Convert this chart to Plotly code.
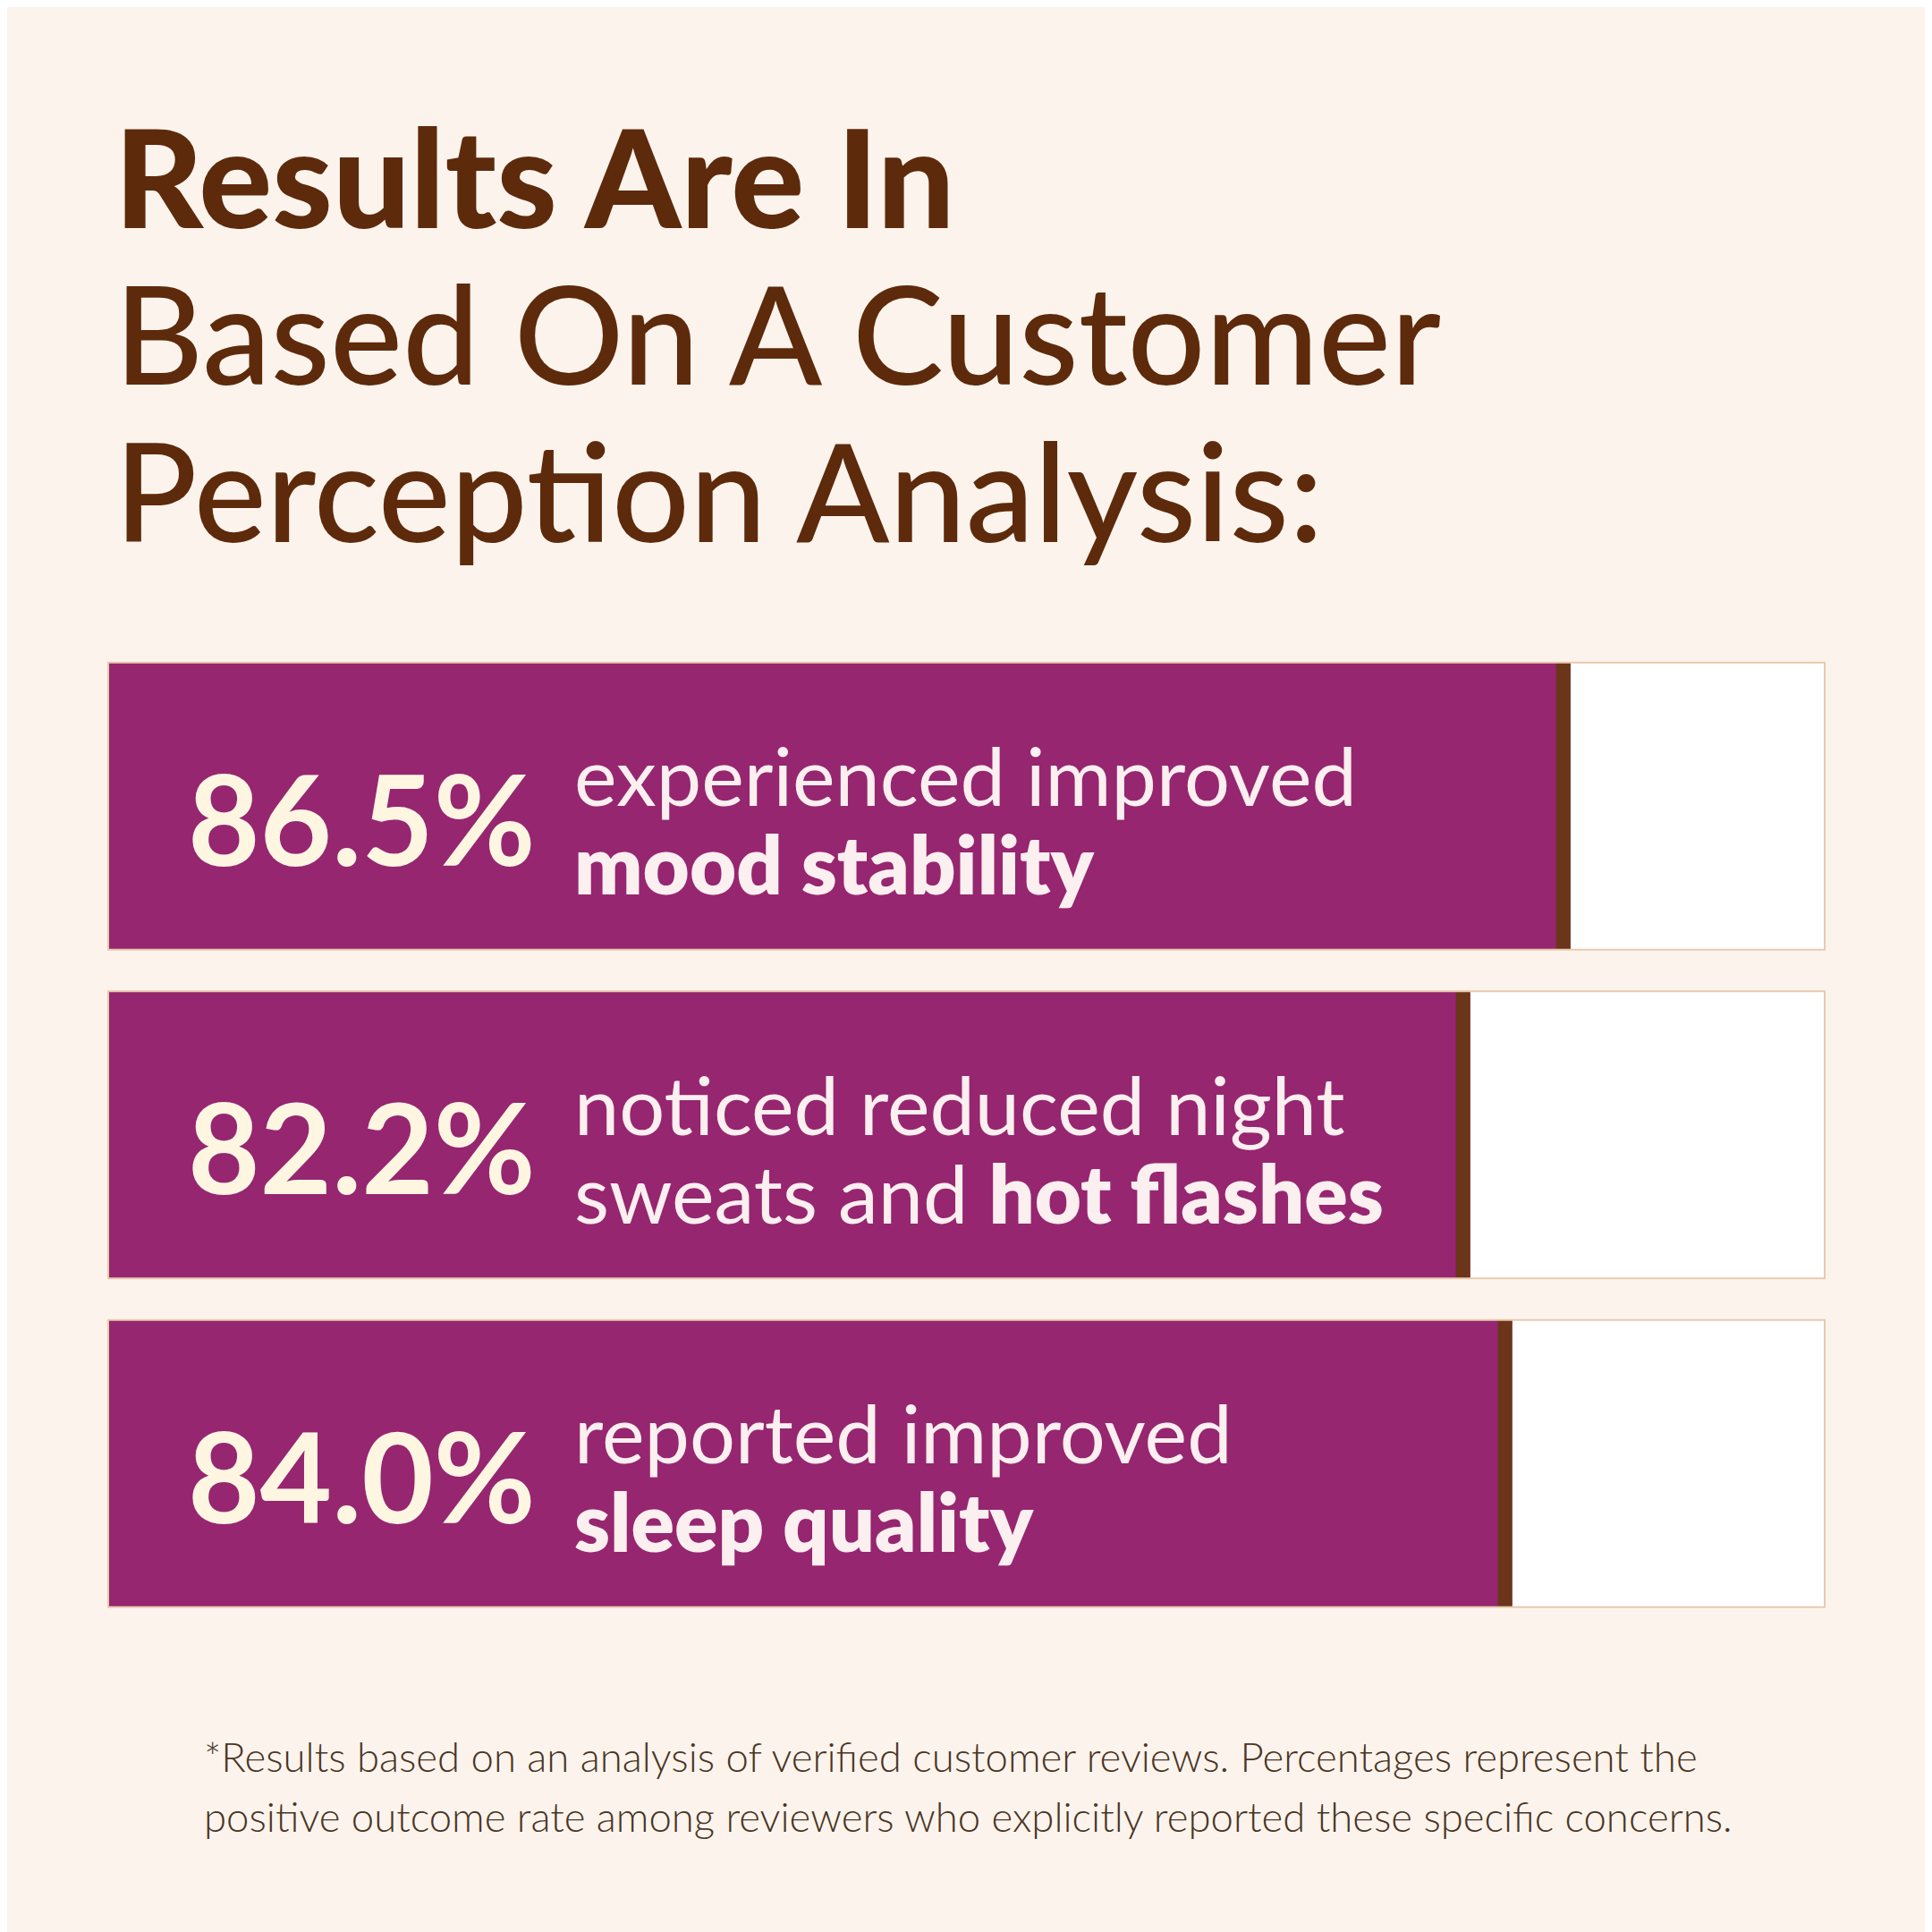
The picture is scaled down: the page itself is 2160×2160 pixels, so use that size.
import plotly.graph_objects as go

categories = ["mood stability", "hot flashes", "sleep quality"]
values = [86.5, 82.2, 84.0]
full_scale = [100, 100, 100]
line_one = ["experienced improved", "noticed reduced night", "reported improved"]
line_two = ["mood stability", "sweats and |hot flashes", "sleep quality"]

title_lines = ["Results Are In", "Based On A Customer", "Perception Analysis:"]
title_weights = [900, 500, 500]
footnote_lines = [
    "*Results based on an analysis of verified customer reviews. Percentages represent the",
    "positive outcome rate among reviewers who explicitly reported these specific concerns.",
]

# Colours
BG = "#FCF4EC"
PURPLE = "#962670"
BROWN = "#6B3519"
TITLE_BROWN = "#5E2A0C"
BORDER = "#E9C9AE"
CREAM = "#FFF6E2"
LABEL = "#FCEFEF"

W = H = 2160
OFF = 8  # page body margin in the browser
BAR_GAP = 0.1265
X_LO, X_HI = 23.8, 97.4
CAP = 16 * (X_HI - X_LO) / 1919  # 16px brown end cap, in axis units
FONT = "Lato"


def px(v):
    return (v - OFF) / W


def heavy(s):
    # text after "|" (or all of it) is set in a heavy weight
    plain, _, strong = s.rpartition("|") if "|" in s else ("", "", s)
    return plain + f'<span style="font-weight:800">{strong}</span>'


fig = go.Figure()

# white panel behind each bar (100% scale)
fig.add_trace(go.Bar(
    y=categories, x=full_scale, base=0, orientation="h",
    marker=dict(color="white", line=dict(width=0)),
    hoverinfo="skip", showlegend=False,
))

# purple value bars
fig.add_trace(go.Bar(
    y=categories, x=values, base=0, orientation="h",
    marker=dict(color=PURPLE, line=dict(width=0)),
    showlegend=False,
))

# brown end cap on each bar
fig.add_trace(go.Bar(
    y=categories, x=[CAP] * len(values), base=[v - CAP for v in values],
    orientation="h", marker=dict(color=BROWN, line=dict(width=0)),
    hoverinfo="skip", showlegend=False,
))

# thin border round each panel
for i, _ in enumerate(categories):
    fig.add_shape(
        type="rect", xref="x domain", yref="y",
        x0=0, x1=1, y0=i - (1 - BAR_GAP) / 2, y1=i + (1 - BAR_GAP) / 2,
        line=dict(color=BORDER, width=2), layer="above",
    )

# text inside the bars
for cat, v, a, b in zip(categories, values, line_one, line_two):
    fig.add_annotation(
        xref="paper", yref="y", x=px(208), y=cat, xanchor="left", yanchor="middle",
        text=f"{v:.1f}%", showarrow=False, yshift=-13,
        font=dict(family=FONT, size=139, color=CREAM, weight=700),
    )
    fig.add_annotation(
        xref="paper", yref="y", x=px(640), y=cat, xanchor="left", yanchor="middle",
        text=a, showarrow=False, yshift=35,
        font=dict(family=FONT, size=90, color=LABEL),
    )
    fig.add_annotation(
        xref="paper", yref="y", x=px(640), y=cat, xanchor="left", yanchor="middle",
        text=heavy(b), showarrow=False, yshift=-64,
        font=dict(family=FONT, size=90, color=LABEL),
    )

# title
for txt, wt, base in zip(title_lines, title_weights, [255, 430, 606]):
    fig.add_annotation(
        xref="paper", yref="paper", x=px(126), y=1 - (base - OFF - 0.387 * 153) / H,
        xanchor="left", yanchor="middle", text=txt, showarrow=False,
        font=dict(family=FONT, size=153, color=TITLE_BROWN, weight=wt),
    )

# footnote
for txt, base in zip(footnote_lines, [1981, 2048]):
    fig.add_annotation(
        xref="paper", yref="paper", x=px(226), y=1 - (base - OFF - 0.387 * 45.5) / H,
        xanchor="left", yanchor="middle", text=txt, showarrow=False,
        font=dict(family=FONT, size=45.5, color="#4A3426", weight=300),
    )

fig.update_layout(
    width=W, height=H,
    margin=dict(l=0, r=0, t=0, b=0),
    paper_bgcolor=BG, plot_bgcolor="rgba(0,0,0,0)",
    barmode="overlay", bargap=BAR_GAP,
    xaxis=dict(range=[X_LO, X_HI], domain=[px(121), px(2040)], visible=False),
    yaxis=dict(
        range=[2.5, -0.5], domain=[1 - (1820 - OFF) / H, 1 - (717.5 - OFF) / H],
        categoryorder="array", categoryarray=categories, visible=False,
    ),
)

fig.write_html("out.html")
